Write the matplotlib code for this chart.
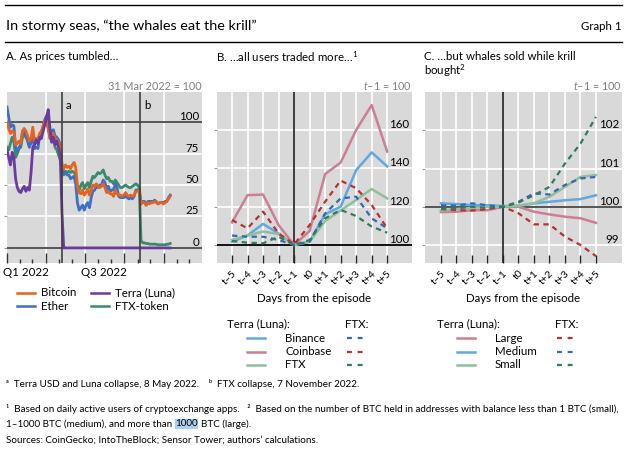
import matplotlib
matplotlib.use('Agg')
import matplotlib.pyplot as plt
import matplotlib.dates as mdates
import matplotlib.transforms as mtransforms
from matplotlib.lines import Line2D
import pandas as pd

plt.rcParams['font.family'] = ['Lato', 'DejaVu Sans']
plt.rcParams['mathtext.fontset'] = 'custom'
plt.rcParams['mathtext.it'] = 'Lato:italic'
plt.rcParams['mathtext.rm'] = 'Lato'

# Panel A: prices every 4 days from 1 Jan 2022, 31 Mar 2022 = 100
dates = pd.date_range('2022-01-01', periods=96, freq='4D')
bitcoin = [100, 95, 91, 93, 92, 82, 83, 85,
           83, 93, 95, 93, 89, 85, 87,
           96, 85, 87, 87, 91, 93, 97, 101,
           101, 95, 88, 89, 91, 87, 86,
           84, 80, 66, 63, 66, 64, 65, 63,
           66, 68, 64, 49, 44, 43, 46,
           42, 44, 47, 42, 46, 50, 49, 51,
           49, 48, 49, 51, 48, 44, 45, 43,
           43, 41, 46, 43, 42, 42, 41,
           42, 44, 42, 41, 42, 41, 42, 45,
           45, 46, 35, 36, 36, 34, 36, 35,
           36, 36, 37, 37, 35, 36, 36, 35,
           36, 37, 39, 41]
ether = [112, 104, 96, 98, 97, 80, 77, 80,
         82, 92, 93, 89, 85, 80, 84,
         89, 79, 80, 79, 89, 91, 96, 102,
         105, 98, 91, 93, 94, 89, 88,
         86, 82, 66, 60, 60, 58, 58, 55,
         56, 57, 51, 36, 30, 32, 34,
         30, 34, 36, 32, 40, 45, 46, 49,
         48, 50, 50, 54, 52, 47, 49, 45,
         46, 46, 51, 48, 41, 40, 40,
         40, 41, 40, 39, 40, 39, 41, 46,
         46, 47, 35, 37, 37, 34, 37, 37,
         37, 37, 38, 36, 35, 36, 36, 36,
         37, 37, 40, 42]
terra = [78, 72, 66, 76, 72, 55, 48, 45,
         44, 47, 49, 45, 48, 46, 60,
         80, 82, 86, 83, 88, 87, 93, 98,
         104, 110, 95, 84, 88, 82, 85,
         80, 73, 28, 0, 0, 0, 0, 0,
         0, 0, 0, 0, 0, 0, 0,
         0, 0, 0, 0, 0, 0, 0, 0,
         0, 0, 0, 0, 0, 0, 0, 0,
         0, 0, 0, 0, 0, 0, 0,
         0, 0, 0, 0, 0, 0, 0, 0,
         0, 0, 0, 0, 0, 0, 0, 0,
         0, 0, 0, 0, 0, 0, 0, 0,
         0, 0, 0, 0]
ftx_token = [80, 78, 83, 88, 85, 72, 75, 79,
             80, 88, 90, 88, 86, 81, 85,
             88, 83, 84, 83, 88, 91, 95, 99,
             100, 95, 87, 86, 86, 80, 78,
             74, 70, 62, 58, 61, 60, 61, 60,
             61, 60, 58, 48, 46, 50, 52,
             47, 50, 52, 48, 53, 57, 56, 58,
             60, 59, 60, 62, 58, 55, 56, 53,
             53, 51, 54, 52, 50, 48, 48,
             49, 50, 49, 48, 48, 49, 50, 51,
             50, 48, 6, 4, 4, 3.5, 3.5, 3,
             3, 3, 3, 2.8, 2.5, 2.5, 2.5, 2.5,
             2.5, 2.8, 3, 3.5]
event_a = pd.Timestamp('2022-05-08')
event_b = pd.Timestamp('2022-11-07')

# Panels B and C: days around the episode, t-1 = 100
days = ['t–5', 't–4', 't–3', 't–2', 't–1', 't0', 't+1', 't+2', 't+3', 't+4', 't+5']
binance_luna = [101.7, 105, 111, 106, 100, 101.7, 116, 120, 139, 148.3, 141]
coinbase_luna = [111.8, 126, 126.3, 110.4, 100, 107.3, 137, 143, 160, 173, 148.7]
ftx_luna = [102.6, 105, 107, 105.7, 100, 101.7, 112.5, 118, 123.5, 129.2, 124.3]
binance_ftx = [104.9, 104.3, 104.3, 102.6, 100, 101.7, 116.5, 124.3, 125.2, 113.9, 108.7]
coinbase_ftx = [113, 108.7, 117.4, 106, 100.3, 110.4, 122.6, 133.6, 129.6, 120.9, 108.7]
ftx_ftx = [102.1, 101.2, 100.9, 104.3, 100, 102.6, 113.9, 118.3, 115.1, 109.6, 106.4]

large_luna = [99.86, 99.87, 99.91, 99.91, 100, 100, 99.87, 99.8, 99.74, 99.7, 99.58]
medium_luna = [100.09, 100.07, 100.04, 100.04, 100.02, 100.02, 100.09, 100.13, 100.17, 100.2, 100.3]
small_luna = [99.9, 99.94, 99.97, 100, 100, 100.03, 100.09, 100.26, 100.52, 100.78, 100.83]
large_ftx = [99.94, 99.91, 99.9, 99.94, 100, 99.83, 99.54, 99.54, 99.22, 99.0, 98.71]
medium_ftx = [100.04, 100.03, 100.09, 100.04, 100, 100.13, 100.35, 100.32, 100.57, 100.74, 100.78]
small_ftx = [99.94, 99.96, 100, 99.97, 100, 100.11, 100.3, 100.52, 101.13, 101.65, 102.35]

BG = '#d9d9d9'
GREY_TXT = '#808080'
C_BTC, C_ETH, C_LUNA, C_FTT = '#e2641f', '#3d6fc2', '#6b3a9e', '#3c8a6b'
C_LBLUE, C_DBLUE = '#5fa8e2', '#3567b2'
C_PINK, C_RED = '#cc7f93', '#b83030'
C_SAGE, C_DGREEN = '#8fbf9d', '#2f7c5c'
DASH = (0, (2.4, 2.0))
FS = 8.3
FN = 7.1

W, H = 627, 451
fig = plt.figure(figsize=(W / 100, H / 100), dpi=100)


def box(x0, y0, x1, y1):
    return [x0 / W, 1 - y1 / H, (x1 - x0) / W, (y1 - y0) / H]


def ftext(x, y, s, **kw):
    return fig.text(x / W, 1 - y / H, s, va='center', **kw)


def fline(x0, x1, y, color, ls='-', lw=1.8):
    fig.add_artist(Line2D([x0 / W, x1 / W], [1 - y / H] * 2, color=color, lw=lw, ls=ls))


def style(ax, yticks, ylabels, zero_line, zero_color):
    ax.set_facecolor(BG)
    for s in ax.spines.values():
        s.set_visible(False)
    for v in yticks:
        if v != zero_line:
            ax.axhline(v, color='white', lw=1.2, zorder=1)
    ax.axhline(zero_line, color=zero_color, lw=1.4, zorder=2)
    ax.set_yticks(yticks)
    ax.tick_params(axis='y', direction='out', length=2, color='#999999', labelleft=False)
    tr = mtransforms.blended_transform_factory(ax.transAxes, ax.transData)
    for v, lab in zip(yticks, ylabels):
        ax.text(0.985, v, lab, transform=tr, ha='right', va='bottom', fontsize=FS, zorder=5)


# ---- Panel A ----
axA = fig.add_axes(box(7, 92, 202, 263))
style(axA, [0, 25, 50, 75, 100], ['0', '25', '50', '75', '100'], 0, '#555555')
axA.axhline(100, color='#555555', lw=1.4, zorder=2)
axA.plot(dates, ftx_token, color=C_FTT, lw=2.0, zorder=3)
axA.plot(dates, ether, color=C_ETH, lw=2.0, zorder=3)
axA.plot(dates, bitcoin, color=C_BTC, lw=2.0, zorder=3)
axA.plot(dates, terra, color=C_LUNA, lw=2.0, zorder=3)
axA.set_xlim(pd.Timestamp('2022-01-01'), pd.Timestamp('2023-03-31'))
axA.set_ylim(-12, 124)
for d in pd.date_range('2022-04-01', '2023-01-01', freq='QS'):
    axA.axvline(d, color='white', lw=1.2, zorder=1)
for d, lab in [(event_a, 'a'), (event_b, 'b')]:
    axA.axvline(d, color='#404040', lw=1.2, zorder=4)
    axA.annotate(lab, (mdates.date2num(d), 1), xycoords=('data', 'axes fraction'),
                 xytext=(3, -6), textcoords='offset points', va='top', fontsize=FS)
axA.xaxis.set_major_locator(mdates.MonthLocator(bymonth=[1, 4, 7, 10]))
axA.xaxis.set_minor_locator(mdates.MonthLocator())
axA.tick_params(axis='x', which='major', direction='in', length=7, width=1, color='#333333', labelbottom=False)
axA.tick_params(axis='x', which='minor', direction='in', length=3, width=1, color='#333333')
trA = mtransforms.blended_transform_factory(axA.transData, axA.transAxes)
for d, lab in [(pd.Timestamp('2022-02-14'), 'Q1 2022'), (pd.Timestamp('2022-08-15'), 'Q3 2022')]:
    axA.text(mdates.date2num(d), -0.055, lab, transform=trA, ha='center', va='center', fontsize=FS)


# ---- Panels B and C ----
def days_panel(ax, solids, dashes, ylim, yticks, ylabels, zero_color):
    style(ax, yticks, ylabels, 100, zero_color)
    x = list(range(len(days)))
    for xi in x:
        if xi != 4:
            ax.axvline(xi, color='white', lw=1.2, zorder=1)
    ax.axvline(4, color='#222222', lw=1.2, zorder=2)
    for vals, c in solids:
        ax.plot(x, vals, color=c, lw=1.8, zorder=3)
    for vals, c in dashes:
        ax.plot(x, vals, color=c, lw=1.6, ls=DASH, zorder=3)
    ax.set_ylim(*ylim)
    ax.set_xticks(x)
    ax.set_xticklabels(days, rotation=45, ha='right', va='top', rotation_mode='anchor', fontsize=7.5)
    ax.tick_params(axis='x', direction='in', length=6, width=1, color='#222222', pad=4)


axB = fig.add_axes(box(217, 92, 412, 263))
days_panel(axB,
           [(binance_luna, C_LBLUE), (coinbase_luna, C_PINK), (ftx_luna, C_SAGE)],
           [(binance_ftx, C_DBLUE), (coinbase_ftx, C_RED), (ftx_ftx, C_DGREEN)],
           (90.6, 179.8), [100, 120, 140, 160], ['100', '120', '140', '160'], '#111111')
axB.set_xlim(-0.97, 11.6)

axC = fig.add_axes(box(425, 92, 622, 263))
days_panel(axC,
           [(large_luna, C_PINK), (medium_luna, C_LBLUE), (small_luna, C_SAGE)],
           [(large_ftx, C_RED), (medium_ftx, C_DBLUE), (small_ftx, C_DGREEN)],
           (98.53, 103.0), [99, 100, 101, 102], ['99', '100', '101', '102'], '#555555')
axC.set_xlim(-1.03, 11.68)

# ---- header and text ----
fline(5, 622, 5, 'black', lw=1.0)
fline(5, 622, 42, 'black', lw=1.0)
ftext(6, 26, 'In stormy seas, “the whales eat the krill”', fontsize=10.4)
ftext(622, 26, 'Graph 1', fontsize=FS, ha='right')
ftext(6, 57, 'A. As prices tumbled…', fontsize=FS)
ftext(216, 57, 'B. …all users traded more…$^{\\mathrm{1}}$', fontsize=FS)
ftext(424, 57, 'C. …but whales sold while krill', fontsize=FS)
ftext(424, 71, 'bought$^{\\mathrm{2}}$', fontsize=FS)
ftext(202, 86, '31 Mar 2022 = 100', fontsize=7.8, ha='right', color=GREY_TXT)
ftext(412, 86, '$\\mathit{t}$–1 = 100', fontsize=7.8, ha='right', color=GREY_TXT)
ftext(622, 86, '$\\mathit{t}$–1 = 100', fontsize=7.8, ha='right', color=GREY_TXT)
ftext(314, 298, 'Days from the episode', fontsize=FS, ha='center')
ftext(523, 298, 'Days from the episode', fontsize=FS, ha='center')

# legend A
for (x0, y, c, lab) in [(17, 293, C_BTC, 'Bitcoin'), (17, 306, C_ETH, 'Ether'),
                        (91, 293, C_LUNA, 'Terra (Luna)'), (91, 306, C_FTT, 'FTX-token')]:
    fline(x0, x0 + 18, y, c)
    ftext(x0 + 24, y, lab, fontsize=FS)

# legends B and C
for x0, rows in [(227, [('Binance', C_LBLUE, C_DBLUE), ('Coinbase', C_PINK, C_RED), ('FTX', C_SAGE, C_DGREEN)]),
                 (437, [('Large', C_PINK, C_RED), ('Medium', C_LBLUE, C_DBLUE), ('Small', C_SAGE, C_DGREEN)])]:
    ftext(x0, 324, 'Terra (Luna):', fontsize=FS)
    ftext(x0 + 118, 324, 'FTX:', fontsize=FS)
    for i, (lab, cs, cd) in enumerate(rows):
        y = 338 + i * 13.5
        fline(x0 + 20, x0 + 38, y, cs)
        ftext(x0 + 58, y, lab, fontsize=FS)
        fline(x0 + 120, x0 + 137, y, cd, ls=(0, (2.2, 2.6)), lw=1.6)

# footnotes
ftext(6, 384, 'ᵃ  Terra USD and Luna collapse, 8 May 2022.    ᵇ  FTX collapse, 7 November 2022.', fontsize=FN)
ftext(6, 409, '¹  Based on daily active users of cryptoexchange apps.   ²  Based on the number of BTC held in '
              'addresses with balance less than 1 BTC (small),', fontsize=FN)
t1 = ftext(6, 424, '1–1000 BTC (medium), and more than', fontsize=FN)
t2 = axA.annotate('1000', xy=(1, 0.5), xycoords=t1, xytext=(2.2, 0), textcoords='offset points',
                  va='center', fontsize=FN, annotation_clip=False,
                  bbox=dict(boxstyle='square,pad=0.05', fc='#a9d0f2', ec='none'))
axA.annotate('BTC (large).', xy=(1, 0.5), xycoords=t2, xytext=(2.2, 0), textcoords='offset points',
             va='center', fontsize=FN, annotation_clip=False)
ftext(6, 440, 'Sources: CoinGecko; IntoTheBlock; Sensor Tower; authors’ calculations.', fontsize=FN)

fig.savefig('out.png', dpi=100)
